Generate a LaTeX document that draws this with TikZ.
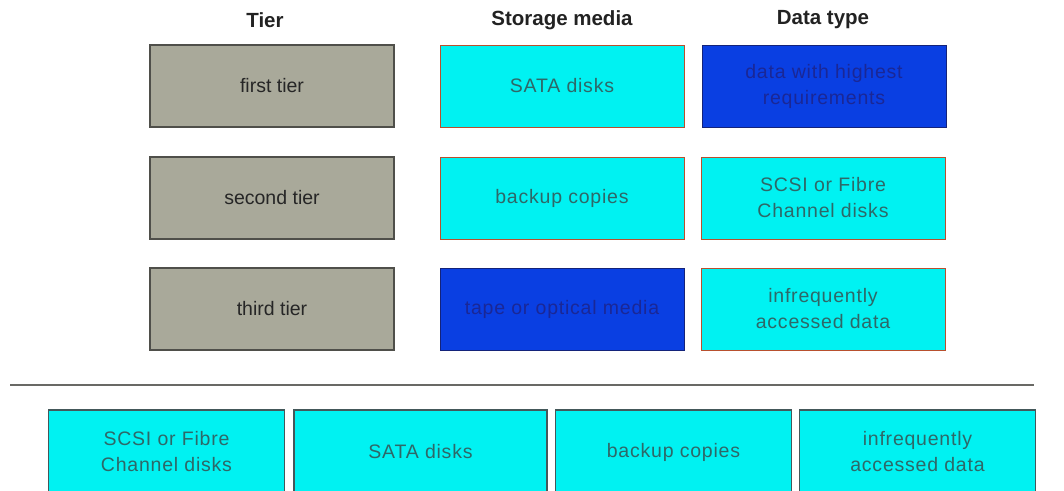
\documentclass[tikz,border=0pt]{standalone}
\usepackage{fontspec}
\setmainfont{Liberation Sans}
\newfontfamily\spacedfont[LetterSpace=4]{Liberation Sans}
\definecolor{greyfill}{HTML}{A9A99A}
\definecolor{greyline}{HTML}{4F4F4A}
\definecolor{cyanfill}{HTML}{00F2F2}
\definecolor{cyantext}{HTML}{2E6868}
\definecolor{bluefill}{HTML}{0A3FE2}
\definecolor{bluetext}{HTML}{1A2796}
\definecolor{blueline}{HTML}{14237A}
\definecolor{redline}{HTML}{B8502E}
\definecolor{bottomline}{HTML}{44585A}
\definecolor{headtext}{HTML}{222222}
\begin{document}
\begin{tikzpicture}[x=1pt,y=-1pt,
  boxbase/.style={rectangle, minimum width=244pt, minimum height=82pt, inner sep=2pt, align=center, line width=1.4pt},
  tierbox/.style={boxbase, fill=greyfill, draw=greyline, text=black!85, font=\fontsize{19.5}{26}\selectfont},
  cyanbox/.style={boxbase, fill=cyanfill, draw=redline, line width=1pt, text=cyantext, font=\spacedfont\fontsize{19.5}{26}\selectfont},
  bluebox/.style={boxbase, fill=bluefill, draw=blueline, line width=1pt, text=bluetext, font=\spacedfont\fontsize{19.5}{26}\selectfont},
  bottombox/.style={boxbase, fill=cyanfill, draw=bottomline, minimum width=236pt, minimum height=84pt, text=cyantext, font=\spacedfont\fontsize{19.5}{26}\selectfont},
  header/.style={font=\bfseries\fontsize{20.5}{24}\selectfont, text=headtext},
  sepline/.style={draw=greyline!85, line width=1.6pt}]
\useasboundingbox (0,0) rectangle (1064,490);
\clip (0,0) rectangle (1064,490);
\fill[white] (0,0) rectangle (1064,490);
% headers
\node[header] (h1) at (265,20) {Tier};
\node[header] (h2) at (562,20) {Storage media};
\node[header] (h3) at (823,20) {Data type};
% tier column
\node[tierbox] (t1) at (272,86) {first tier};
\node[tierbox] (t2) at (272,198) {second tier};
\node[tierbox] (t3) at (272,309) {third tier};
% storage media column
\node[cyanbox] (s1) at (562,86) {SATA disks};
\node[cyanbox] (s2) at (562,198) {backup copies};
\node[bluebox] (s3) at (562,309) {tape or optical media};
% data type column
\node[bluebox] (d1) at (824,86) {data with highest\\requirements};
\node[cyanbox] (d2) at (823,198) {SCSI or Fibre\\Channel disks};
\node[cyanbox] (d3) at (823,309) {infrequently\\accessed data};
% separator
\coordinate (sepL) at (10,385);
\coordinate (sepR) at (1034,385);
\draw[sepline] (sepL) -- (sepR);
% bottom row
\node[bottombox] (b1) at (166.5,452) {SCSI or Fibre\\Channel disks};
\node[bottombox, minimum width=253pt] (b2) at (420.5,452) {SATA disks};
\node[bottombox] (b3) at (673.5,452) {backup copies};
\node[bottombox] (b4) at (917.5,452) {infrequently\\accessed data};
\end{tikzpicture}
\end{document}
